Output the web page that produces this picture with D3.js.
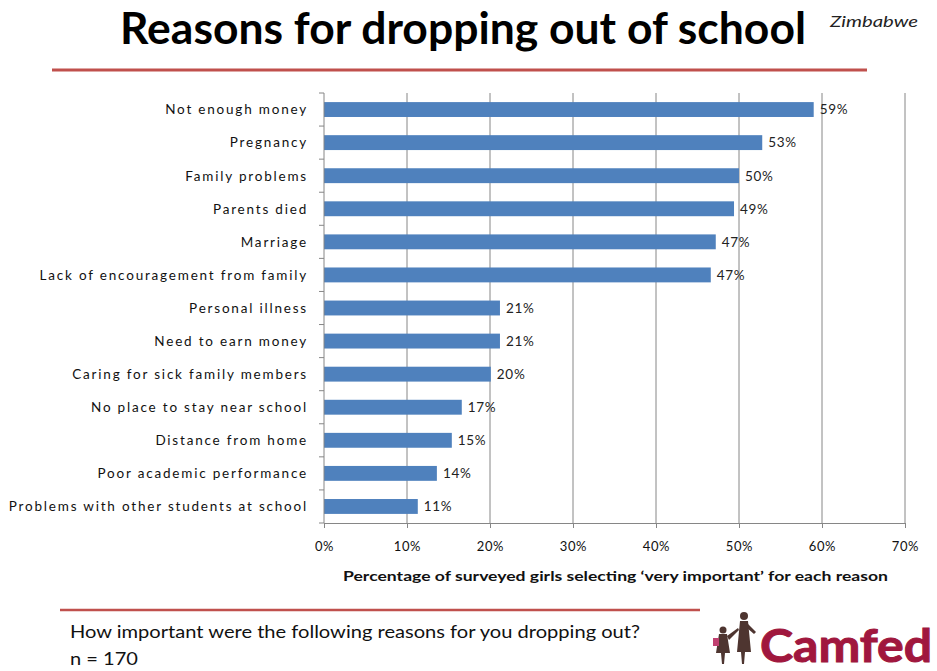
<!DOCTYPE html>
<html>
<head>
<meta charset="utf-8">
<script src="https://cdn.jsdelivr.net/npm/d3@7"></script>
<style>
  body { margin: 0; background: #fff; }
  svg { display: block; font-family: Lato, "Open Sans", sans-serif; }
</style>
</head>
<body>
<svg width="937" height="671"></svg>
<script>
// reasons, top to bottom
const reasons = [
    "Not enough money",
    "Pregnancy",
    "Family problems",
    "Parents died",
    "Marriage",
    "Lack of encouragement from family",
    "Personal illness",
    "Need to earn money",
    "Caring for sick family members",
    "No place to stay near school",
    "Distance from home",
    "Poor academic performance",
    "Problems with other students at school"
];
// share of girls saying "very important" (%)
const percents = [59, 52.8, 50, 49.4, 47.2, 46.6, 21.2, 21.2, 20.1, 16.6, 15.4, 13.6, 11.3];
const xTicks = [0, 10, 20, 30, 40, 50, 60, 70];

const svg = d3.select("svg");
const red = "#c0504d";

const margin = { left: 324, right: 32, top: 93, bottom: 148 };
const W = 937, H = 671;

const x = d3.scaleLinear().domain([0, 70]).range([margin.left, W - margin.right]);
const y = d3.scaleBand().domain(reasons).range([margin.top, H - margin.bottom]).paddingInner(0.55).paddingOuter(0.275);

// title block
svg.append("text")
    .attr("x", 120).attr("y", 44)
    .attr("textLength", 686).attr("lengthAdjust", "spacingAndGlyphs")
    .style("font-size", "44px").style("font-weight", "bold").style("fill", "#000")
    .text("Reasons for dropping out of school");
svg.append("text")
    .attr("x", 830).attr("y", 27)
    .attr("textLength", 88).attr("lengthAdjust", "spacingAndGlyphs")
    .style("font-size", "16px").style("font-style", "italic").style("fill", "#222")
    .text("Zimbabwe");
svg.append("line")
    .attr("x1", 52).attr("x2", 867).attr("y1", 70).attr("y2", 70)
    .attr("stroke", red).attr("stroke-width", 3);

// gridlines
svg.append("g").selectAll("line")
    .data(xTicks.slice(1))
    .join("line")
    .attr("x1", d => x(d)).attr("x2", d => x(d))
    .attr("y1", margin.top).attr("y2", H - margin.bottom)
    .attr("stroke", "#868686").attr("stroke-width", 1);

// bars
svg.append("g").selectAll("rect")
    .data(reasons)
    .join("rect")
    .attr("x", x(0))
    .attr("y", d => y(d))
    .attr("width", (d, i) => x(percents[i]) - x(0))
    .attr("height", y.bandwidth())
    .attr("fill", "#4f81bd");

// value labels
svg.append("g").selectAll("text")
    .data(reasons)
    .join("text")
    .attr("x", (d, i) => x(percents[i]) + 6)
    .attr("y", d => y(d) + y.bandwidth() / 2)
    .attr("dy", "0.36em")
    .style("font-size", "13.5px").style("letter-spacing", "0.7px").style("fill", "#222")
    .text((d, i) => Math.round(percents[i]) + "%");

// y axis: line, ticks between categories, labels
const step = y.step();
const yBounds = d3.range(reasons.length + 1).map(i => margin.top + i * step);
const yAxis = svg.append("g");
yAxis.append("line")
    .attr("x1", x(0)).attr("x2", x(0))
    .attr("y1", margin.top).attr("y2", H - margin.bottom)
    .attr("stroke", "#868686");
yAxis.selectAll(".tk").data(yBounds).join("line")
    .attr("x1", x(0) - 5).attr("x2", x(0))
    .attr("y1", d => d).attr("y2", d => d)
    .attr("stroke", "#868686");
yAxis.selectAll("text").data(reasons).join("text")
    .attr("x", x(0) - 16)
    .attr("y", d => y(d) + y.bandwidth() / 2)
    .attr("dy", "0.36em")
    .attr("text-anchor", "end")
    .style("font-size", "13.5px").style("letter-spacing", "1.8px").style("fill", "#111")
    .text(d => d);

// x axis
const xAxis = svg.append("g")
    .attr("transform", `translate(0,${H - margin.bottom})`)
    .call(d3.axisBottom(x).tickValues(xTicks).tickFormat(d => d + "%").tickSize(5).tickPadding(14));
xAxis.select(".domain").attr("stroke", "#868686");
xAxis.selectAll(".tick line").attr("stroke", "#868686");
xAxis.selectAll(".tick text")
    .style("font-family", "Lato, sans-serif").style("font-size", "13px").style("letter-spacing", "0.6px").style("fill", "#111");

svg.append("text")
    .attr("x", 343).attr("y", 581)
    .attr("textLength", 545).attr("lengthAdjust", "spacingAndGlyphs")
    .style("font-size", "13px").style("font-weight", "bold").style("fill", "#111")
    .text("Percentage of surveyed girls  selecting \u2018very important\u2019  for each reason");

// footer
svg.append("line")
    .attr("x1", 60).attr("x2", 700).attr("y1", 610).attr("y2", 610)
    .attr("stroke", red).attr("stroke-width", 2.5);
svg.append("text")
    .attr("x", 70).attr("y", 638)
    .attr("textLength", 570).attr("lengthAdjust", "spacingAndGlyphs")
    .style("font-size", "18px").style("fill", "#111")
    .text("How important were the following reasons for you dropping out?");
svg.append("text")
    .attr("x", 70).attr("y", 665)
    .attr("textLength", 68).attr("lengthAdjust", "spacingAndGlyphs")
    .style("font-size", "18px").style("fill", "#111")
    .text("n = 170");

// Camfed logo (rough figures + wordmark)
const logo = svg.append("g").attr("fill", "#4e3530");
logo.append("circle").attr("cx", 744).attr("cy", 616).attr("r", 4);
logo.append("path").attr("d", "M740,621 L748,621 L751,652 L745,652 L744,664 L742,664 L741,652 L737,652 Z");
logo.append("path").attr("d", "M748,624 L756,632 L754,634 L747,628 Z");
logo.append("circle").attr("cx", 723).attr("cy", 630).attr("r", 3.5);
logo.append("path").attr("d", "M719,634 L727,634 L730,653 L725,653 L724,664 L722,664 L721,653 L716,653 Z");
logo.append("path").attr("d", "M727,636 L738,628 L739,630 L729,640 Z");
logo.append("rect").attr("x", 713).attr("y", 638).attr("width", 6).attr("height", 8).attr("fill", "#c04070");
svg.append("text")
    .attr("x", 760).attr("y", 662)
    .attr("textLength", 172).attr("lengthAdjust", "spacingAndGlyphs")
    .style("font-size", "46px").style("font-weight", "bold").style("stroke", "#a0173e").style("stroke-width", 1)
    .style("fill", "#a0173e")
    .text("Camfed");
</script>
</body>
</html>
